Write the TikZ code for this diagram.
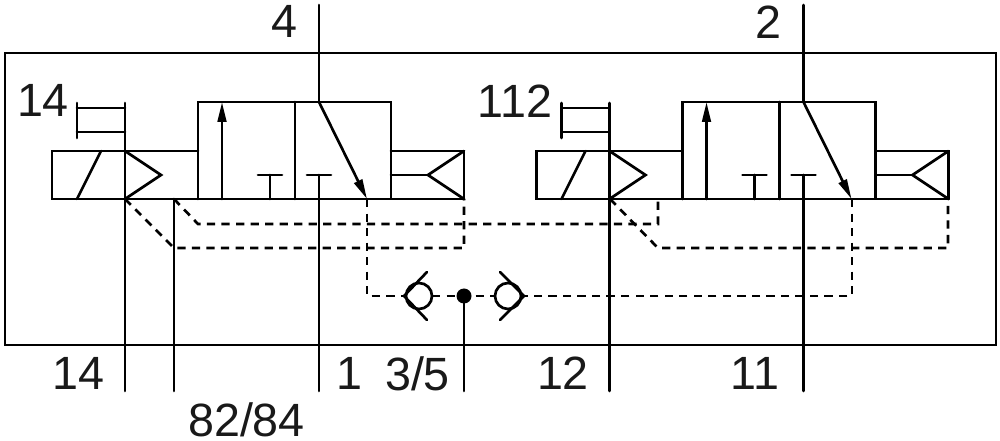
\documentclass[tikz,border=0pt]{standalone}
\usepackage{fontspec}
\setmainfont{Liberation Sans}
\usetikzlibrary{arrows.meta}
\tikzset{
  ln/.style={line width=2pt,line cap=round,line join=miter},
  dsh/.style={line width=2pt,dash pattern=on 6.2pt off 4.7pt},
  lbl/.style={font=\fontsize{35}{35}\selectfont,inner sep=0pt,text=black!90},
  tip/.style={-{Triangle[length=15pt,width=6.5pt]}}
}
\newcommand{\valve}[1]{%
\begin{scope}[xshift=#1*0.75pt]
  % solenoid
  \draw[ln] (125,151) -- (52,151) -- (52,199) -- (198,199);
  \draw[ln] (125,151) -- (198,151);
  \draw[ln] (77,199) -- (101,151);
  \draw[ln] (125,103) -- (125,391);
  \draw[ln] (125,151) -- (161,175) -- (125,199);
  % manual override
  \draw[ln] (77,103) -- (77,138);
  \draw[ln] (77,108) -- (125,108);
  \draw[ln] (77,132) -- (125,132);
  % valve body
  \draw[ln] (198,199) -- (198,102) -- (391,102) -- (391,199) -- (198,199);
  \draw[ln] (295,102) -- (295,199);
  \draw[ln,tip] (222,199) -- (222,102);
  \draw[ln] (198,199) -- (464,199);
  \draw[ln] (270,199) -- (270,175);
  \draw[ln] (258,175) -- (282,175);
  \draw[ln] (307,175) -- (331,175);
  \draw[ln] (319,175) -- (319,391);
  \draw[ln] (319,5) -- (319,102);
  \draw[ln,tip] (319,102) -- (367,199);
  % return spring
  \draw[ln] (391,151) -- (464,151) -- (464,199);
  \draw[ln] (391,175) -- (428,175);
  \draw[ln] (464,151) -- (428,175) -- (464,199);
\end{scope}}
\begin{document}
\begin{tikzpicture}[x=0.75pt,y=-0.75pt]
  \useasboundingbox (0,0) rectangle (1000,441);
  \fill[white] (0,0) rectangle (1000,441);
  \draw[ln] (5,53) rectangle (996,345);
  \valve{0}
  \valve{484.5}
  % pilot lines
  \draw[dsh] (125,199) -- (174,248) -- (464,248) -- (464,199);
  \draw[dsh] (174,199) -- (198,224) -- (658,224) -- (658,199);
  \draw[dsh] (610,199) -- (658,248) -- (948,248) -- (948,199);
  \draw[dsh] (367,199) -- (367,296) -- (404,296);
  \draw[dsh] (852,199) -- (852,296) -- (524,296);
  \draw[dsh] (432,296) -- (495,296);
  % shuttle valve
  \draw[ln,fill=white] (419,296) circle (13);
  \draw[ln,fill=white] (508,296) circle (13);
  \draw[ln] (427,272) -- (404,296) -- (427,320);
  \draw[ln] (500,272) -- (524,296) -- (500,320);
  \fill (464,296) circle (7.5);
  \draw[ln] (464,296) -- (464,391);
  \draw[ln] (174,199) -- (174,391);
  \node[lbl] (l4) at (284,21) {4};
  \node[lbl] (l2) at (768,22) {2};
  \node[lbl] (l14a) at (43,100) {14};
  \node[lbl] (l112) at (515,101) {112};
  \node[lbl] (l14b) at (78.5,373.5) {14};
  \node[lbl] (l1) at (349,373.5) {1};
  \node[lbl] (l35) at (417.5,373.5) {3/5};
  \node[lbl] (l12) at (563,373.5) {12};
  \node[lbl] (l11) at (755,373.5) {11};
  \node[lbl] (l8284) at (246.5,420) {82/84};
\end{tikzpicture}
\end{document}
